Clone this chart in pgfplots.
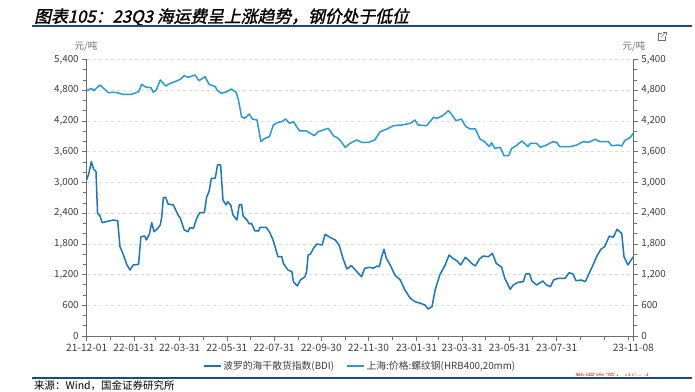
\documentclass[border=0pt]{standalone}
\usepackage{fontspec}
\setmainfont{Noto Sans CJK SC}
\newfontfamily\titlefont[FakeSlant=0.22,FakeBold=1.5]{Noto Sans CJK SC}
\usepackage{pgfplots}
\pgfplotsset{compat=1.18}
\definecolor{bdi}{RGB}{24,118,192}
\definecolor{steel}{RGB}{36,154,216}
\definecolor{navy}{RGB}{31,73,125}
\definecolor{axgray}{RGB}{110,110,110}
\definecolor{txt}{RGB}{60,60,60}
\definecolor{gridc}{RGB}{222,222,222}
\pgfplotsset{
  common/.style={
    at={(86.7pt,55pt)}, anchor=south west, scale only axis,
    width=546.6pt, height=276.5pt,
    xmin=0, xmax=706, ymin=0, ymax=5400,
    ytick={0,600,...,5400}, minor y tick num=2,
    tick align=outside, major tick length=4.5pt, minor tick length=3.5pt,
    tick style={axgray, line width=0.6pt},
    axis line style={axgray, line width=0.9pt},
    /pgf/number format/assume math mode=true,
    /pgf/number format/1000 sep={,},
    y tick label style={font=\fontsize{9.8}{10}\selectfont, text=txt},
  }
}
\begin{document}
\begin{tikzpicture}[x=1pt,y=1pt]
\path[use as bounding box] (0,0) rectangle (695,391);
% title
\node[anchor=west, inner sep=0pt] at (34,374) {\titlefont\fontsize{16.8}{18}\selectfont 图表105：23Q3 海运费呈上涨趋势，钢价处于低位};
\draw[navy, line width=1.3pt] (32,365) -- (692,365);
% icon
\draw[axgray, line width=0.6pt] (662,358) -- (658,358) -- (658,351) -- (665,351) -- (665,355);
\draw[axgray, line width=0.6pt] (661,354) -- (666,359);
\draw[axgray, line width=0.6pt] (663,359) -- (666,359) -- (666,356);
% units
\node[text=axgray, font=\fontsize{9.5}{10}\selectfont] at (86,345) {元/吨};
\node[text=axgray, font=\fontsize{9.5}{10}\selectfont] at (634,345) {元/吨};

\begin{axis}[common,
  axis x line*=bottom, axis y line*=left,
  ymajorgrids, grid style={dashed, gridc, line width=0.6pt},
  xtick={0,61,120,181,242,303,364,426,485,546,607,706},
  xticklabels={21-12-01,22-01-31,22-03-31,22-05-31,22-07-31,22-09-30,22-11-30,23-01-31,23-03-31,23-05-31,23-07-31,23-11-08},
  minor xtick={30,89,150,211,273,334,395,454,515,576,638,668,699},
  x tick label style={font=\fontsize{10.2}{10}\selectfont, text=txt, inner xsep=0pt},
  legend style={draw=none, at={(0.5,-0.075)}, anchor=north, legend columns=2,
    font=\fontsize{9.8}{10}\selectfont, text=txt,
    /tikz/every even column/.append style={column sep=10pt}},
  legend image code/.code={\draw[#1] (0pt,0pt) -- (17pt,0pt);},
]
\addplot[bdi, line width=1.5pt, line join=round] coordinates {
(0,3047) (3,3190) (6,3404) (9,3256) (12,3210) (14,2396) (17,2350) (20,2213)
(34,2265) (40,2252) (43,1744) (47,1601) (52,1387) (56,1289) (60,1387) (67,1400)
(70,1939) (75,1953) (77,1875) (81,1992) (84,2213) (87,2037) (91,2090) (95,2168)
(97,2330) (99,2701) (102,2709) (105,2578) (112,2559) (118,2363) (121,2299)
(126,2070) (131,2037) (133,2115) (138,2103) (142,2299) (146,2408) (152,2408)
(155,2720) (158,2818) (161,3080) (166,3080) (169,3340) (173,3340) (176,2656)
(180,2559) (182,2623) (186,2559) (189,2363) (194,2265) (197,2559) (200,2572)
(202,2344) (207,2265) (210,2187) (213,2200) (217,2056) (222,2050) (224,2123)
(232,2123) (237,2005) (241,1861) (247,1549) (252,1549) (254,1419) (260,1289)
(265,1256) (267,1060) (272,977) (276,1094) (282,1158) (284,1256) (286,1582)
(289,1601) (293,1713) (297,1797) (304,1777) (308,1986) (314,1928) (321,1875)
(326,1777) (331,1517) (336,1309) (342,1373) (349,1256) (355,1158) (359,1322)
(366,1342) (370,1322) (375,1367) (378,1353) (381,1549) (384,1693) (387,1517)
(392,1387) (398,1191) (405,1094) (411,898) (418,736) (424,670) (431,639)
(437,605) (441,527) (446,572) (450,898) (456,1191) (463,1387) (468,1582)
(473,1517) (478,1471) (483,1387) (489,1537) (493,1484) (497,1419) (502,1367)
(507,1498) (512,1562) (519,1549) (524,1615) (529,1419) (536,1342) (540,1127)
(547,912) (551,996) (557,1049) (564,1060) (567,1211) (572,1211) (575,1074)
(581,996) (589,1074) (594,996) (599,963) (603,1094) (609,1127) (618,1127)
(623,1236) (628,1211) (632,1080) (639,1094) (644,1060) (648,1191) (654,1387)
(659,1562) (664,1693) (669,1744) (675,1953) (680,1928) (685,2084) (691,2005)
(694,1549) (699,1387) (706,1549)
};
\addlegendentry{波罗的海干散货指数(BDI)}
\addplot[steel, line width=1.5pt, line join=round] coordinates {
(0,4790) (6,4837) (9,4790) (17,4902) (28,4752) (37,4760) (47,4720) (58,4720)
(67,4771) (71,4915) (77,4857) (83,4850) (86,4760) (90,4805) (95,5000) (102,4882)
(108,4935) (114,4967) (121,5013) (126,5084) (131,5052) (140,5097) (145,4986)
(153,5064) (158,4915) (166,4869) (169,4791) (174,4740) (181,4771) (187,4824)
(193,4760) (196,4609) (200,4283) (204,4252) (210,4336) (214,4238) (220,4218)
(225,3795) (230,3861) (236,3892) (241,4121) (247,4173) (252,4186) (257,4238)
(262,4154) (267,4186) (275,4004) (284,4004) (294,3912) (299,3990) (312,4056)
(319,3906) (323,3880) (327,3828) (334,3685) (340,3763) (349,3828) (355,3783)
(364,3783) (372,3828) (379,3990) (387,4037) (396,4107) (407,4121) (418,4154)
(424,4218) (428,4121) (439,4107) (448,4271) (453,4252) (461,4316) (467,4400)
(471,4336) (477,4205) (484,4238) (489,4101) (495,4043) (502,4043) (508,3847)
(514,3795) (520,3697) (523,3776) (527,3665) (534,3685) (539,3521) (545,3521)
(549,3665) (555,3717) (562,3808) (570,3697) (573,3763) (581,3763) (586,3685)
(594,3730) (602,3795) (607,3783) (611,3697) (624,3697) (633,3730) (641,3795)
(648,3783) (657,3841) (663,3795) (674,3795) (678,3717) (687,3730) (691,3710)
(695,3814) (702,3880) (706,3958)
};
\addlegendentry{上海:价格:螺纹钢(HRB400,20mm)}
\end{axis}

\begin{axis}[common,
  axis y line*=right, axis x line=none,
]
\addplot[draw=none] coordinates {(0,0)};
\end{axis}

% bottom
\begin{scope}
\clip (560,15.5) rectangle (680,30);
\node[text=red!75, font=\fontsize{10}{10}\selectfont] at (612,13) {数据来源：Wind};
\end{scope}
\draw[navy, line width=1.3pt] (32,13) -- (692,13);
\node[anchor=west, inner sep=0pt, font=\fontsize{10.5}{11}\selectfont, text=black] at (34,5) {来源：Wind，国金证券研究所};
\end{tikzpicture}
\end{document}
